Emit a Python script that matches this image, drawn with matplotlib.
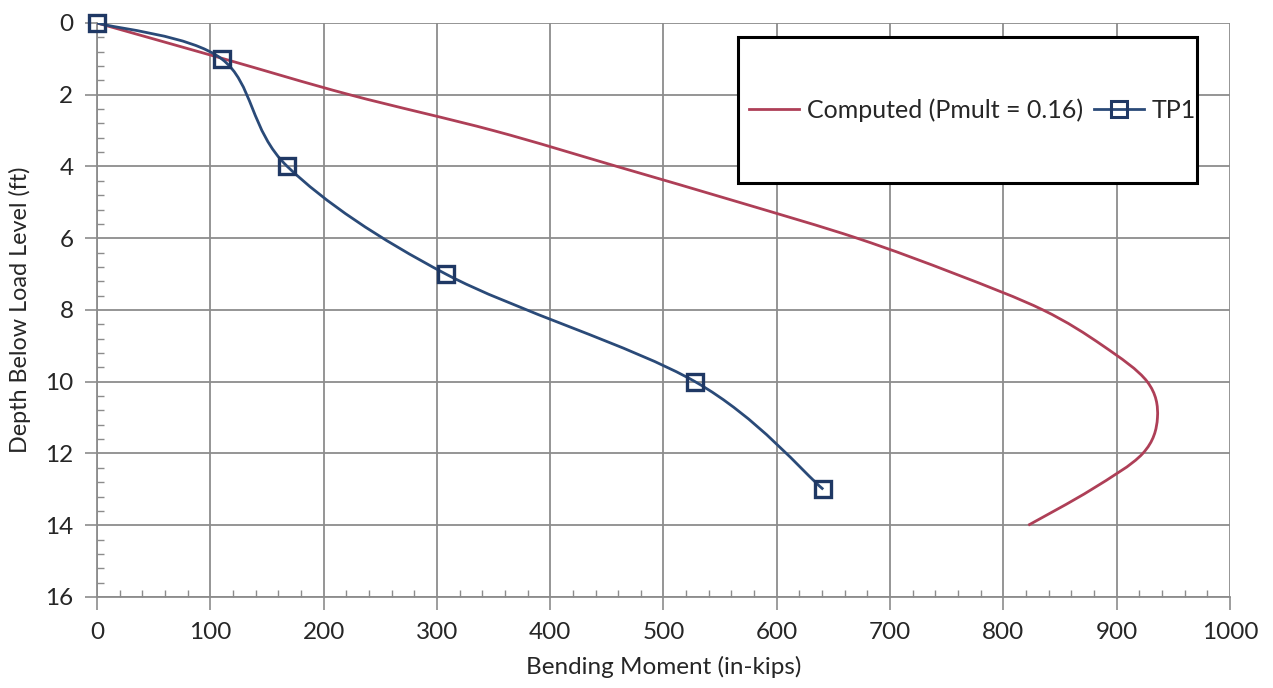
import numpy as np
import matplotlib
matplotlib.use("Agg")
import matplotlib.pyplot as plt
from matplotlib.path import Path
from matplotlib.patches import PathPatch, Rectangle
from matplotlib.lines import Line2D
from matplotlib.ticker import MultipleLocator

# Computed bending moment profile (in-kips) vs depth (ft)
computed_moment = [0, 112, 223, 350, 459, 567, 671, 758, 835, 888, 927, 936, 923, 878, 822]
computed_depth = [0, 1, 2, 3, 4, 5, 6, 7, 8, 9, 10, 11, 12, 13, 14]

# Measured moments, test pile TP1
tp1_moment = [0, 110, 168, 308, 528, 641]
tp1_depth = [0, 1, 4, 7, 10, 13]

computed_label = "Computed (Pmult = 0.16)"
tp1_label = "TP1"

red = "#AE3F57"
blue = "#2A4A78"
navy = "#1F3864"
grid_grey = "#8C8C8C"

plt.rcParams["font.family"] = ["Lato", "DejaVu Sans"]


def smooth_path(xs, ys):
    """Cubic Bezier path through the points (Catmull-Rom style tangents)."""
    pts = np.column_stack([xs, ys]).astype(float)
    n = len(pts)
    verts = [tuple(pts[0])]
    codes = [Path.MOVETO]
    for i in range(n - 1):
        p_prev = pts[i - 1] if i > 0 else pts[i]
        p_next2 = pts[i + 2] if i + 2 < n else pts[i + 1]
        c1 = pts[i] + (pts[i + 1] - p_prev) / 6.0
        c2 = pts[i + 1] - (p_next2 - pts[i]) / 6.0
        verts += [tuple(c1), tuple(c2), tuple(pts[i + 1])]
        codes += [Path.CURVE4] * 3
    return Path(verts, codes)


fig = plt.figure(figsize=(12.73, 6.88), dpi=100)
ax = fig.add_axes([0.0762, 0.1323, 0.8900, 0.8343])

ax.set_xlim(0, 1000)
ax.set_ylim(16, 0)

ax.xaxis.set_major_locator(MultipleLocator(100))
ax.xaxis.set_minor_locator(MultipleLocator(20))
ax.yaxis.set_major_locator(MultipleLocator(2))
ax.yaxis.set_minor_locator(MultipleLocator(0.4))

ax.grid(True, which="major", color=grid_grey, linewidth=1.3)
ax.set_axisbelow(True)
for side in ["top", "right"]:
    ax.spines[side].set_visible(False)
for side in ["left", "bottom"]:
    ax.spines[side].set_color(grid_grey)
    ax.spines[side].set_linewidth(1.3)

ax.tick_params(which="major", direction="out", length=9, width=1.2, color=grid_grey,
               labelsize=17.5, labelcolor="#262626")
ax.tick_params(which="minor", direction="in", length=5, width=1.0, color=grid_grey)
ax.tick_params(axis="x", which="major", pad=9)
ax.tick_params(axis="y", which="major", pad=8)

# Computed curve
ax.add_patch(PathPatch(smooth_path(computed_moment, computed_depth), fill=False,
                       edgecolor=red, linewidth=2.0, zorder=3))

# TP1 curve and markers
ax.add_patch(PathPatch(smooth_path(tp1_moment, tp1_depth), fill=False,
                       edgecolor=blue, linewidth=2.0, zorder=4))
ax.plot(tp1_moment, tp1_depth, linestyle="none", marker="s", markersize=12,
        markerfacecolor="none", markeredgecolor=navy, markeredgewidth=2.4,
        zorder=5, clip_on=False)

ax.set_xlabel("Bending Moment (in-kips)", fontsize=17.5, color="#262626", labelpad=9)
ax.set_ylabel("Depth Below Load Level (ft)", fontsize=16.8, color="#262626", labelpad=10)

# Legend box
box = Rectangle((0.5658, 0.7213), 0.4051, 0.2543, transform=ax.transAxes,
                facecolor="white", edgecolor="black", linewidth=2.2, zorder=6)
ax.add_patch(box)
handles = [
    Line2D([], [], color=red, linewidth=2.0),
    Line2D([], [], color=blue, linewidth=2.0, marker="s", markersize=11,
           markerfacecolor="none", markeredgecolor=navy, markeredgewidth=2.2),
]
leg = ax.legend(handles, [computed_label, tp1_label], ncol=2, frameon=False,
                loc="center", bbox_to_anchor=(0.773, 0.848), fontsize=18,
                handlelength=2.0, handletextpad=0.3, columnspacing=0.45,
                borderaxespad=0)
leg.set_zorder(7)
for t in leg.get_texts():
    t.set_color("#262626")

fig.savefig("out.png", dpi=100)
